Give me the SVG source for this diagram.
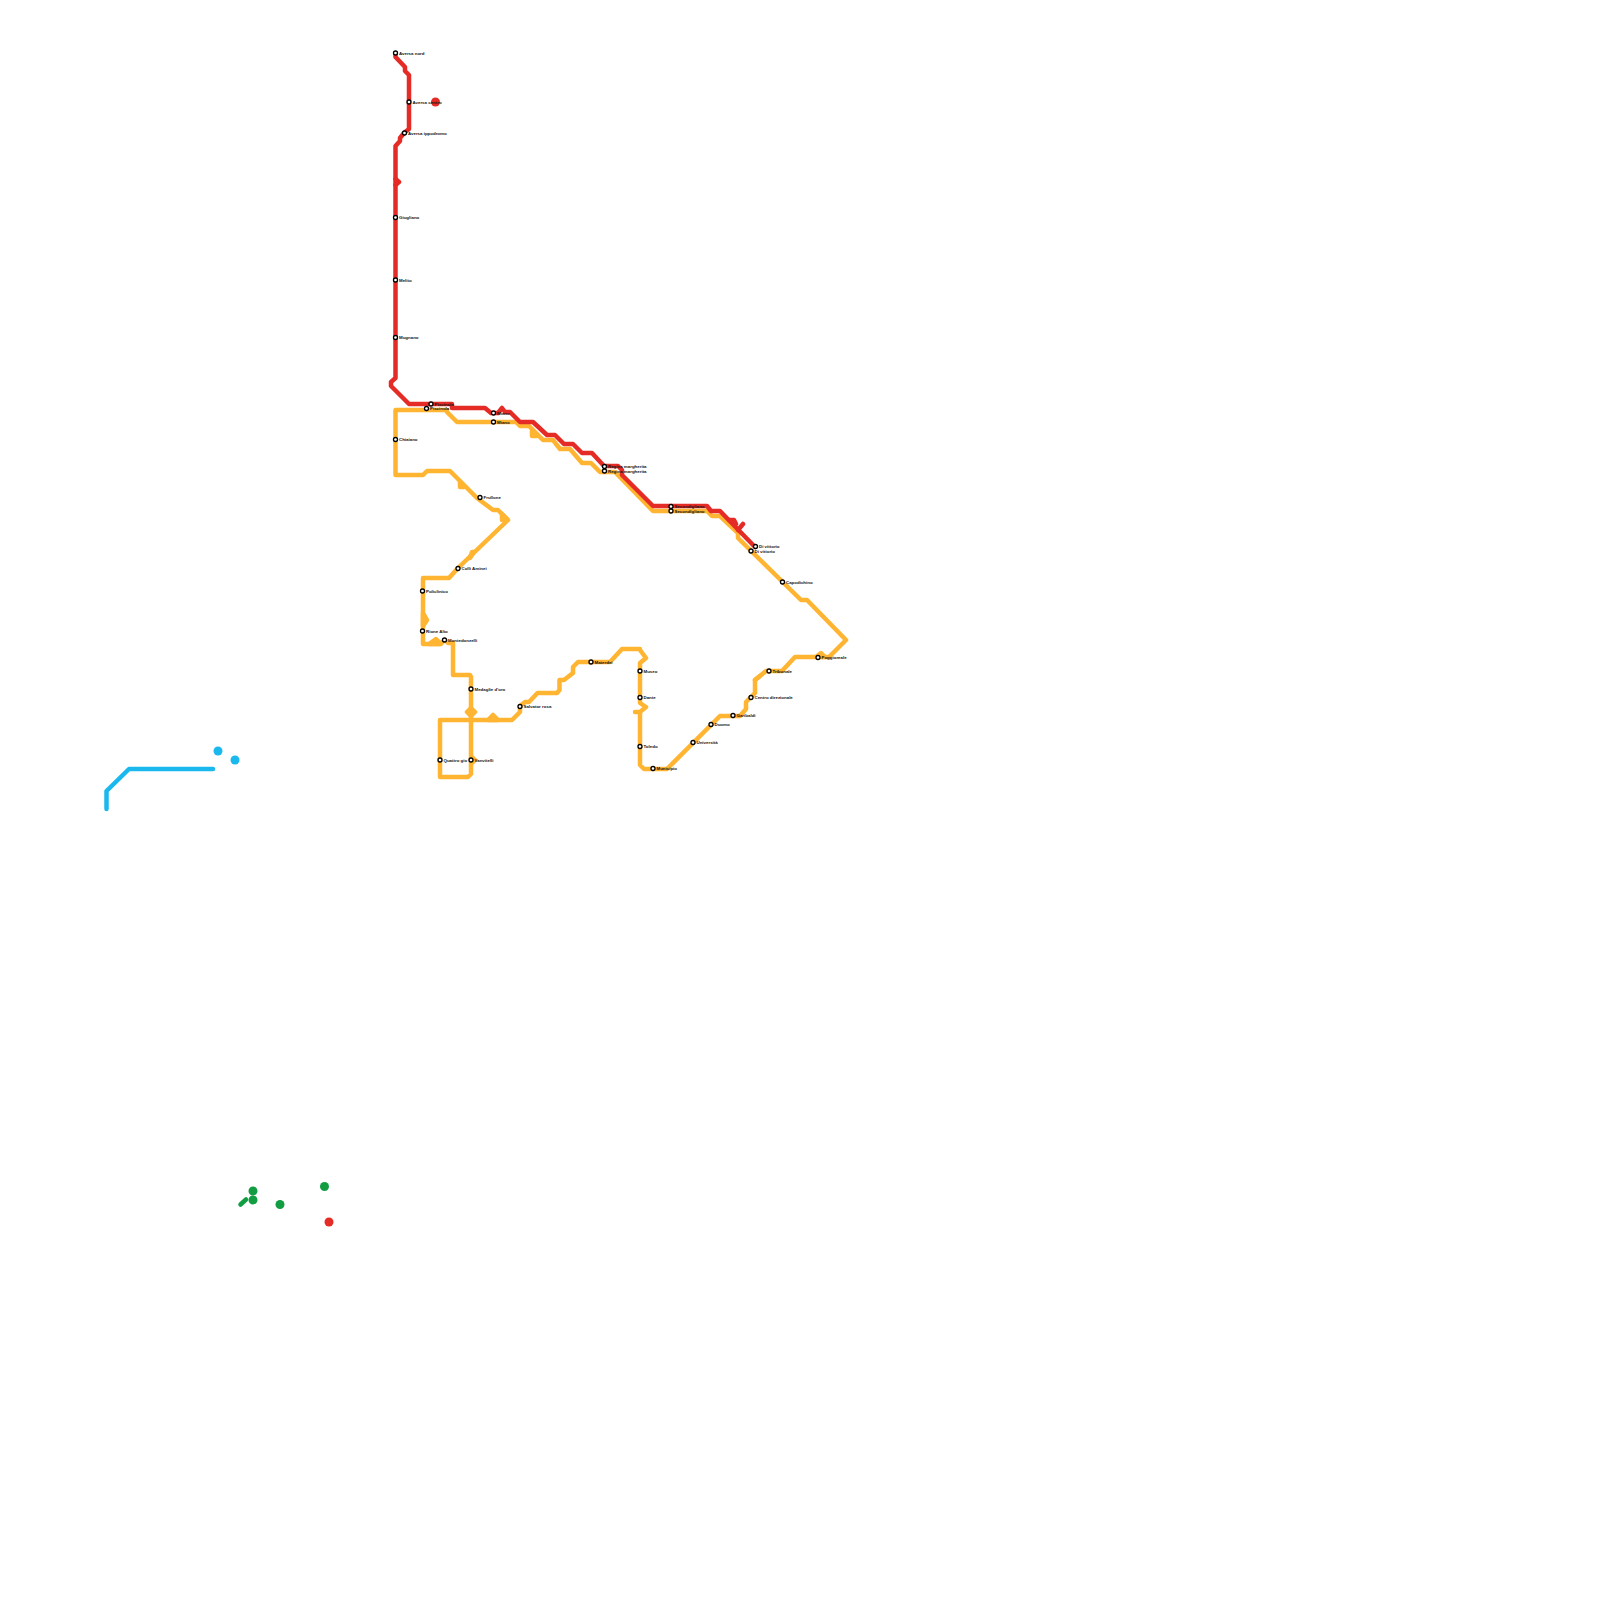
<svg xmlns="http://www.w3.org/2000/svg" width="1600" height="1600" viewBox="0 0 1600 1600">
<style>
.l{fill:none;stroke-width:4.5;stroke-linecap:round;stroke-linejoin:round}
.y{stroke:#ffb531}.r{stroke:#e52b25}.c{stroke:#1bb8ee}.g{stroke:#129d43}
.s{fill:#fff;stroke:#000;stroke-width:1.3}
text{font-family:"Liberation Sans",Arial,sans-serif;font-size:4.4px;font-weight:700;fill:#111}
</style>
<rect width="1600" height="1600" fill="#fff"/>
<g id="connectors">
<path class="l y" d="M447 410H395.500V475H423L427 471H450L477 498L493 510H498L508 520L458 568L449 578H423V644H440L445 640L448 643H453V675H470L471 677V720H512L520 712V706L525 702H529L537.500 693H557L559.500 690V680H564L573 673V667L578 662H610L622 649H640V650L646 658L640 663V703L646 707L640 712H635H640V765L644 769H667L720 716H740L746 709V702L755 693V680L766 671H782L795 657H829L846 640L807 600H801L738 538V533L720 516H712L707 511H653L615 472H600L591 463H582L570 449H560L553 440H543L529 426H520L516 422H457L447 412"/>
<path class="l y" d="M440 777V720H471M440 777H468L471 774V720M467 712L471 708L475 712L471 716ZM423 613L427 620L423 626ZM429 644L436 639L441 644ZM488 720L493 715L498 720ZM470 558L472 552H474ZM502 520L507 519L502 514ZM471 756L475 760L471 764ZM816 657L821 653L825 657ZM532 431V436H537M460 482V487H464M755 680L760 676"/>
<path class="l r" d="M395.500 53V57L405 67V71L409 75V129L404 133L400 138V141L395.500 146V378L391 382V386L409 404H452V408H485L491 413H498L502 408L505 412H510L520 422H533L547 435H555L564 444H573L582 453H592L604 466H618L622 470V475L653 506H707L711 511H720L755 547"/>
<path class="l r" d="M395.500 179L399 182L395.500 185M729 520H734L736 524M738 530L743 524"/>
<path class="l c" d="M106.500 809V791L129 769H213"/>
<path class="l g" d="M240.500 1204.500L246 1199.500"/>
</g>
<g id="dots">
<circle cx="435.500" cy="102" r="4.500" fill="#e52b25"/>
<circle cx="218" cy="751" r="4.500" fill="#1bb8ee"/>
<circle cx="235" cy="760" r="4.500" fill="#1bb8ee"/>
<circle cx="253" cy="1191" r="4.500" fill="#129d43"/>
<circle cx="253" cy="1200" r="4.500" fill="#129d43"/>
<circle cx="280" cy="1204.500" r="4.500" fill="#129d43"/>
<circle cx="324.500" cy="1186.500" r="4.500" fill="#129d43"/>
<circle cx="329" cy="1222" r="4.500" fill="#e52b25"/>
</g>
<g id="n1"><circle class="s" cx="395.500" cy="53" r="2"/><text x="399" y="54.500">Aversa nord</text></g>
<g id="n2"><circle class="s" cx="409" cy="102" r="2"/><text x="412.500" y="103.500">Aversa centro</text></g>
<g id="n3"><circle class="s" cx="404.500" cy="133" r="2"/><text x="408" y="134.500">Aversa ippodromo</text></g>
<g id="n4"><circle class="s" cx="395.500" cy="217.500" r="2"/><text x="399" y="219">Giugliano</text></g>
<g id="n5"><circle class="s" cx="395.500" cy="280" r="2"/><text x="399" y="281.500">Melito</text></g>
<g id="n6"><circle class="s" cx="395.500" cy="337.500" r="2"/><text x="399" y="339">Mugnano</text></g>
<g id="n7"><circle class="s" cx="431" cy="404" r="2"/><text x="434.500" y="405.500">Piscinola</text></g>
<g id="n8"><circle class="s" cx="426.500" cy="408.500" r="2"/><text x="430" y="410">Piscinola</text></g>
<g id="n9"><circle class="s" cx="493.500" cy="413" r="2"/><text x="497" y="414.500">Miano</text></g>
<g id="n10"><circle class="s" cx="493.500" cy="422" r="2"/><text x="497" y="423.500">Miano</text></g>
<g id="n11"><circle class="s" cx="395.500" cy="439.500" r="2"/><text x="399" y="441">Chiaiano</text></g>
<g id="n12"><circle class="s" cx="480" cy="497.500" r="2"/><text x="483.500" y="499">Frullone</text></g>
<g id="n13"><circle class="s" cx="604.500" cy="466.500" r="2"/><text x="608" y="468">Regina margherita</text></g>
<g id="n14"><circle class="s" cx="604.500" cy="471" r="2"/><text x="608" y="472.500">Regina margherita</text></g>
<g id="n15"><circle class="s" cx="671" cy="506.500" r="2"/><text x="674.500" y="508">Secondigliano</text></g>
<g id="n16"><circle class="s" cx="671" cy="511" r="2"/><text x="674.500" y="512.500">Secondigliano</text></g>
<g id="n17"><circle class="s" cx="755.500" cy="546.500" r="2"/><text x="759" y="548">Di vittorio</text></g>
<g id="n18"><circle class="s" cx="751" cy="551" r="2"/><text x="754.500" y="552.500">Di vittorio</text></g>
<g id="n19"><circle class="s" cx="782.500" cy="582" r="2"/><text x="786" y="583.500">Capodichino</text></g>
<g id="n20"><circle class="s" cx="458" cy="568.500" r="2"/><text x="461.500" y="570">Colli Aminei</text></g>
<g id="n21"><circle class="s" cx="422.500" cy="591" r="2"/><text x="426" y="592.500">Policlinico</text></g>
<g id="n22"><circle class="s" cx="422.500" cy="631" r="2"/><text x="426" y="632.500">Rione Alto</text></g>
<g id="n23"><circle class="s" cx="444.500" cy="640" r="2"/><text x="448" y="641.500">Montedonzelli</text></g>
<g id="n24"><circle class="s" cx="471" cy="689" r="2"/><text x="474.500" y="690.500">Medaglie d'oro</text></g>
<g id="n25"><circle class="s" cx="520" cy="706.500" r="2"/><text x="523.500" y="708">Salvator rosa</text></g>
<g id="n26"><circle class="s" cx="440" cy="760" r="2"/><text x="443.500" y="761.500">Quattro gio</text></g>
<g id="n27"><circle class="s" cx="471" cy="760" r="2"/><text x="474.500" y="761.500">Vanvitelli</text></g>
<g id="n28"><circle class="s" cx="591" cy="662" r="2"/><text x="594.500" y="663.500">Materdei</text></g>
<g id="n29"><circle class="s" cx="640" cy="671" r="2"/><text x="643.500" y="672.500">Museo</text></g>
<g id="n30"><circle class="s" cx="640" cy="697.500" r="2"/><text x="643.500" y="699">Dante</text></g>
<g id="n31"><circle class="s" cx="640" cy="746.500" r="2"/><text x="643.500" y="748">Toledo</text></g>
<g id="n32"><circle class="s" cx="653" cy="768.500" r="2"/><text x="656.500" y="770">Municipio</text></g>
<g id="n33"><circle class="s" cx="693" cy="742.500" r="2"/><text x="696.500" y="744">Università</text></g>
<g id="n34"><circle class="s" cx="711" cy="724.500" r="2"/><text x="714.500" y="726">Duomo</text></g>
<g id="n35"><circle class="s" cx="733" cy="715.500" r="2"/><text x="736.500" y="717">Garibaldi</text></g>
<g id="n36"><circle class="s" cx="751" cy="697.500" r="2"/><text x="754.500" y="699">Centro direzionale</text></g>
<g id="n37"><circle class="s" cx="769" cy="671" r="2"/><text x="772.500" y="672.500">Tribunale</text></g>
<g id="n38"><circle class="s" cx="818" cy="657.500" r="2"/><text x="821.500" y="659">Poggioreale</text></g>
</svg>
